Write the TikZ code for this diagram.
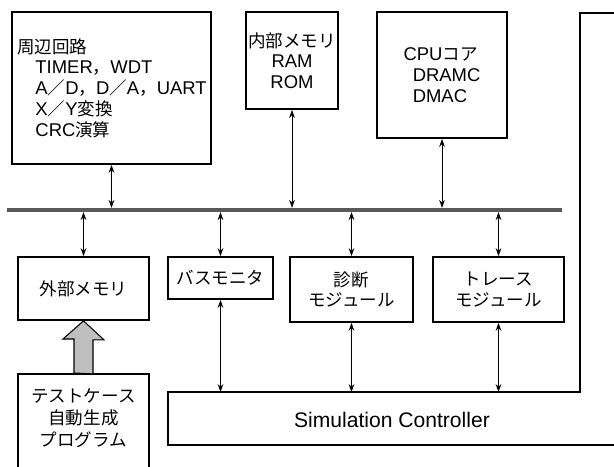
\documentclass[tikz,border=0pt]{standalone}
\usepackage{fontspec}
\setmainfont{Liberation Sans}
\newfontfamily\jp[Scale=0.95]{Noto Sans CJK JP}
\usetikzlibrary{arrows.meta,positioning,calc}

\begin{document}
\begin{tikzpicture}[
  font=\fontsize{10.5}{11.8}\selectfont,
  blk/.style={draw,line width=1pt,inner sep=0pt},
  link/.style={{Stealth[length=4.5pt,width=3.2pt]}-{Stealth[length=4.5pt,width=3.2pt]},line width=0.5pt},
  bus/.style={line width=2.3pt,black!65},
  bigarrow/.style={draw,line width=0.6pt,fill=black!25}
]
\useasboundingbox (0,0) rectangle (12.28,9.32);
\clip (0,0) rectangle (12.28,9.32);
\node[blk,minimum width=3.98cm,minimum height=3.04cm,text width=3.78cm,align=left] (peri) at (2.23,7.56)
{{\jp 周辺回路}\\
\hspace*{1em}TIMER{\jp ，}WDT\\
\hspace*{1em}A{\jp ／}D{\jp ，}D{\jp ／}A{\jp ，}UART\\
\hspace*{1em}X{\jp ／}Y{\jp 変換}\\
\hspace*{1em}CRC{\jp 演算}};
\node[blk,minimum width=1.84cm,minimum height=1.94cm,align=center] (intmem) at (5.84,8.11)
{{\jp 内部メモリ}\\RAM\\ROM};
\node[blk,minimum width=2.6cm,minimum height=2.52cm,align=left] (cpu) at (8.84,7.82)
{CPU{\jp コア}\\\hspace*{0.5em}DRAMC\\\hspace*{0.5em}DMAC};
\coordinate (busw) at (0.14,5.12);
\coordinate (buse) at (11.24,5.12);
\node[blk,minimum width=2.62cm,minimum height=1.26cm] (extmem) at (1.67,3.55) {\jp 外部メモリ};
\node[blk,minimum width=2.1cm,minimum height=0.84cm] (busmon) at (4.41,3.76) {\jp バスモニタ};
\node[blk,minimum width=2.46cm,minimum height=1.3cm,align=center] (diag) at (7.03,3.53)
{\jp 診断\\\jp モジュール};
\node[blk,minimum width=2.62cm,minimum height=1.3cm,align=center] (trace) at (9.97,3.53)
{\jp トレース\\\jp モジュール};
\node[blk,anchor=north,minimum width=2.62cm,minimum height=2.4cm] (testgen) at (1.67,1.86) {};
\node[align=center,font=\fontsize{10.5}{12.4}\selectfont] (testtxt) at (1.67,0.96)
{\jp テストケース\\\jp 自動生成\\\jp プログラム};
\coordinate (simtl) at (3.36,1.48);
\draw[line width=1pt] (12.5,9.06) -| (11.6,1.48) -| (3.36,0.42) -- (12.5,0.42);
\node[font=\fontsize{12}{14}\selectfont] (simtxt) at (7.84,0.92) {Simulation Controller};
\draw[bus] (busw) -- (buse);
\foreach \n in {peri,intmem,cpu}
  \draw[link,shorten >=1.2pt] (\n.south) -- (\n.south |- busw);
\foreach \n in {extmem,busmon,diag,trace}
  \draw[link,shorten <=1.2pt] (\n.north |- busw) -- (\n.north);
\foreach \n in {busmon,diag,trace}
  \draw[link] (\n.south) -- (\n.south |- simtl);
\draw[bigarrow] ($(testgen.north)+(-0.19,0)$) -- ++(0,0.68) -- ++(-0.22,0) -- (extmem.south)
  -- ++(0.41,-0.38) -- ++(-0.22,0) -- ++(0,-0.68) -- cycle;
\end{tikzpicture}
\end{document}
